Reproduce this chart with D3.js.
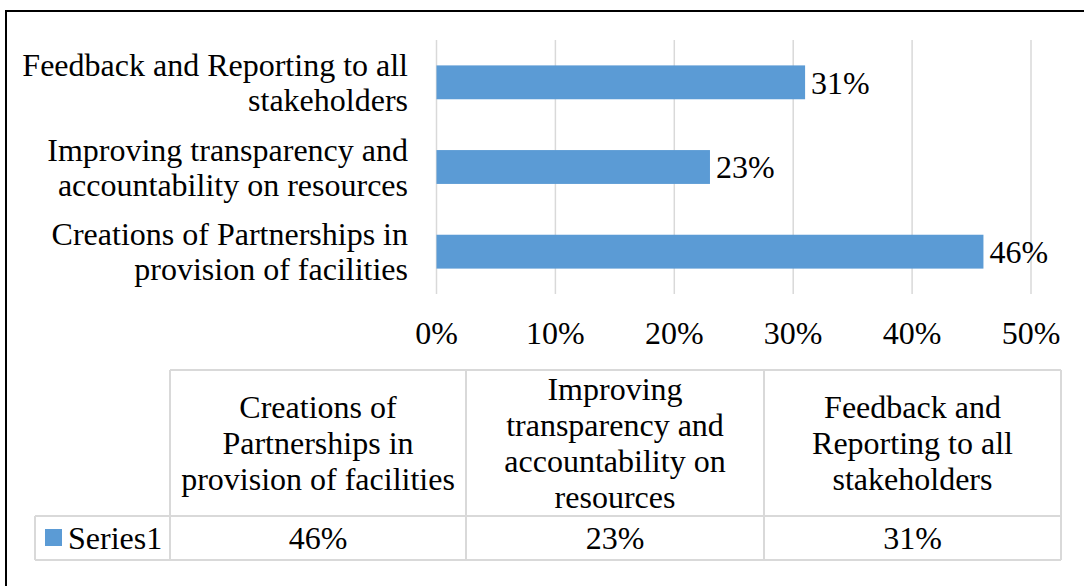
<!DOCTYPE html>
<html><head><meta charset="utf-8">
<script src="https://cdn.jsdelivr.net/npm/d3@7"></script>
</head>
<body style="margin:0"><svg id="c" width="1084" height="586"></svg>
<script>
// ---- data ----
const categories = ["Creations of Partnerships in provision of facilities",
  "Improving transparency and accountability on resources",
  "Feedback and Reporting to all stakeholders"];
const values = [0.46, 0.23, 0.31];
const seriesName = "Series1";
const xTicks = [0, 0.1, 0.2, 0.3, 0.4, 0.5];
// wrapped text lines
const axisLabelLines = [["Creations of Partnerships in","provision of facilities"],
  ["Improving transparency and","accountability on resources"],
  ["Feedback and Reporting to all","stakeholders"]];
const tableLabelLines = [["Creations of","Partnerships in","provision of facilities"],
  ["Improving","transparency and","accountability on","resources"],
  ["Feedback and","Reporting to all","stakeholders"]];

const svg = d3.select("#c");
const FS = 32;
const color = "#5b9bd5", grid = "#d9d9d9";
const fmt = d3.format(".0%");

svg.append("rect").attr("x",6).attr("y",11).attr("width",1100).attr("height",600)
  .attr("fill","none").attr("stroke","#000").attr("stroke-width",2);

const x = d3.scaleLinear().domain([0,0.5]).range([436.5,1031]);
const y = d3.scaleBand().domain(d3.range(categories.length).reverse()).range([40,294]).paddingInner(0.6).paddingOuter(0.3);

svg.append("g").selectAll("line").data(xTicks).join("line")
  .attr("x1",d=>x(d)).attr("x2",d=>x(d)).attr("y1",40).attr("y2",294)
  .attr("stroke",grid).attr("stroke-width",1.5);

svg.append("g").selectAll("rect").data(values).join("rect")
  .attr("x",x(0)).attr("y",(d,i)=>y(i)).attr("width",d=>x(d)-x(0)).attr("height",y.bandwidth())
  .attr("fill",color);

const colX = [170,466,764,1061];
const tTop = 370, tMid = 516, tBot = 560, legLeft = 35;
const tg = svg.append("g").attr("stroke",grid).attr("stroke-width",2).attr("fill","none");
tg.append("line").attr("x1",colX[0]).attr("x2",colX[3]).attr("y1",tTop).attr("y2",tTop);
tg.append("line").attr("x1",legLeft).attr("x2",colX[3]).attr("y1",tMid).attr("y2",tMid);
tg.append("line").attr("x1",legLeft).attr("x2",colX[3]).attr("y1",tBot).attr("y2",tBot);
tg.append("line").attr("x1",legLeft).attr("x2",legLeft).attr("y1",tMid).attr("y2",tBot);
colX.forEach(cx=>tg.append("line").attr("x1",cx).attr("x2",cx).attr("y1",tTop).attr("y2",tBot));
svg.append("rect").attr("x",45).attr("y",529).attr("width",17).attr("height",17).attr("fill",color);

// all texts as flat list, appended directly to svg
const texts = [];
values.forEach((v,i)=>texts.push({t:fmt(v), x:x(v)+6, y:y(i)+y.bandwidth()/2, a:"start"}));
axisLabelLines.forEach((lines,i)=>lines.forEach((t,j)=>texts.push({t, x:408, y:y(i)+y.bandwidth()/2+(j-(lines.length-1)/2)*35, a:"end"})));
xTicks.forEach(v=>texts.push({t:fmt(v), x:x(v), y:333, a:"middle"}));
tableLabelLines.forEach((lines,i)=>lines.forEach((t,j)=>texts.push({t, x:(colX[i]+colX[i+1])/2, y:(tTop+tMid)/2+(j-(lines.length-1)/2)*36, a:"middle"})));
values.forEach((v,i)=>texts.push({t:fmt(v), x:(colX[i]+colX[i+1])/2, y:(tMid+tBot)/2, a:"middle"}));
texts.push({t:seriesName, x:68, y:(tMid+tBot)/2, a:"start"});

svg.selectAll("text.lbl").data(texts).join("text").attr("class","lbl")
  .attr("x",d=>d.x).attr("y",d=>d.y).attr("dy","0.35em").attr("text-anchor",d=>d.a)
  .attr("font-size",FS).attr("font-family",d=>"Liberation Serif").text(d=>d.t);
</script></body></html>
